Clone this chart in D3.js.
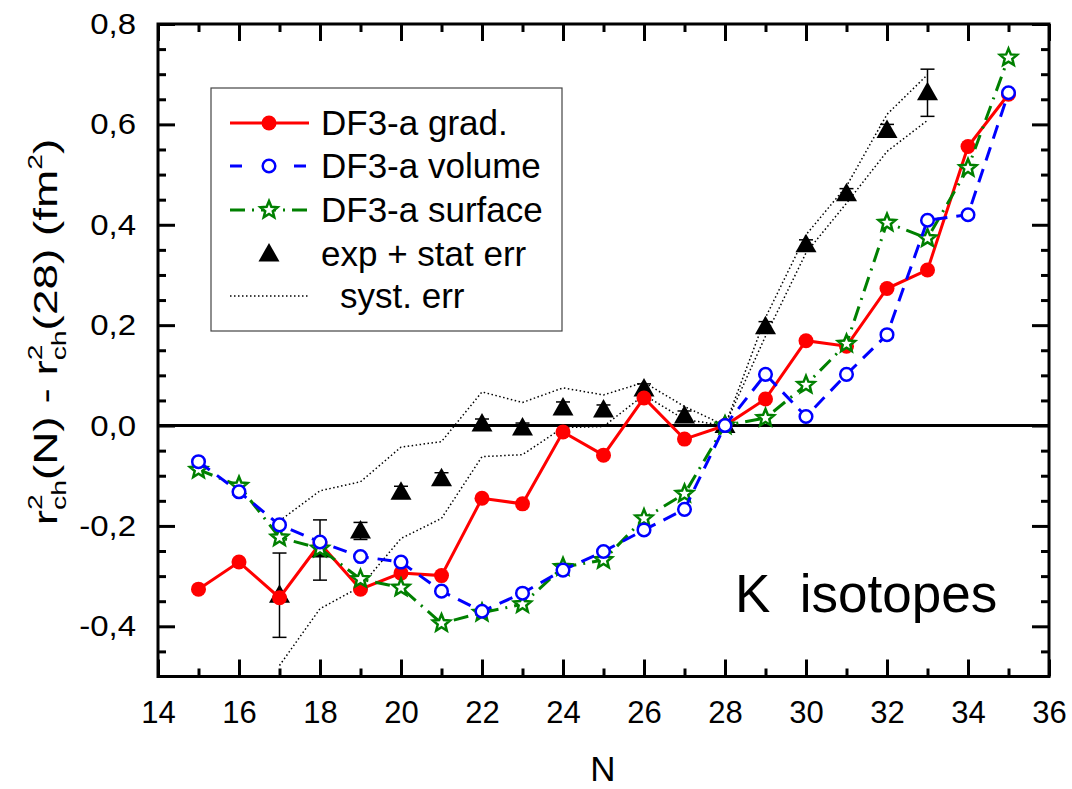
<!DOCTYPE html>
<html>
<head>
<meta charset="utf-8">
<script src="https://cdn.jsdelivr.net/npm/d3@7"></script>
<style>
  body { margin: 0; background: #fff; }
  svg { font-family: "Liberation Sans", Arial, sans-serif; }
</style>
</head>
<body>
<svg id="chart" width="1072" height="789"></svg>
<script>
// neutron number N and the three DF3-a calculations
var nCalc = [15, 16, 17, 18, 19, 20, 21, 22, 23, 24, 25, 26, 27, 28, 29, 30, 31, 32, 33, 34, 35];
var gradVals = [-0.326, -0.272, -0.343, -0.235, -0.326, -0.294, -0.299, -0.145, -0.156, -0.013, -0.059,
                0.055, -0.027, 0.0, 0.053, 0.169, 0.158, 0.273, 0.310, 0.556, 0.660];
var volumeVals = [-0.072, -0.132, -0.198, -0.232, -0.261, -0.272, -0.330, -0.370, -0.334, -0.288, -0.251,
                  -0.208, -0.167, 0.0, 0.102, 0.018, 0.102, 0.181, 0.409, 0.420, 0.663];
var surfaceVals = [-0.088, -0.120, -0.223, -0.245, -0.306, -0.323, -0.394, -0.373, -0.356, -0.282, -0.268,
                   -0.185, -0.136, 0.0, 0.015, 0.081, 0.163, 0.404, 0.373, 0.513, 0.733];

// experiment
var nExp = [17, 18, 19, 20, 21, 22, 23, 24, 25, 26, 27, 28, 29, 30, 31, 32, 33];
var expVals = [-0.338, -0.248, -0.210, -0.133, -0.106, 0.003, -0.005, 0.035, 0.031, 0.073, 0.019,
               0.0, 0.197, 0.360, 0.462, 0.588, 0.663];
var statErr = [0.084, 0.060, 0.017, 0.012, 0.012, 0.010, 0.010, 0.012, 0.010, 0.010, 0.010,
               0.0, 0.010, 0.010, 0.010, 0.012, 0.047];
var systUpper = [-0.190, -0.130, -0.112, -0.043, -0.032, 0.067, 0.046, 0.075, 0.061, 0.086, 0.038,
                 0.0, 0.215, 0.380, 0.477, 0.620, 0.699];
var systLower = [-0.478, -0.365, -0.321, -0.225, -0.185, -0.062, -0.058, -0.004, -0.002, 0.061, 0.012,
                 0.0, 0.178, 0.344, 0.443, 0.546, 0.608];

var xMajor = [14, 16, 18, 20, 22, 24, 26, 28, 30, 32, 34, 36];
var yMajor = [-0.4, -0.2, 0.0, 0.2, 0.4, 0.6, 0.8];

var svg = d3.select("#chart");
var x = d3.scaleLinear().domain([14, 36]).range([158, 1049]);
var y = d3.scaleLinear().domain([-0.5, 0.8]).range([676.5, 24]);

var xMinor = d3.range(15, 36, 1).filter(function(d) { return d % 2 !== 0; });
var yMinor = d3.range(-0.45, 0.8, 0.05).filter(function(d) {
    return Math.abs(Math.round(d * 5) - d * 5) > 0.01;
});

function fmtY(d) { return d.toFixed(1).replace(".", ",").replace("−", "-"); }

function styleAxis(g, w) {
    g.select(".domain").remove();
    g.selectAll(".tick line").attr("stroke", "#000").attr("stroke-width", w);
}

// axes, ticks point inward
var bottom = svg.append("g").attr("transform", "translate(0,676.5)")
    .call(d3.axisBottom(x).tickValues(xMajor).tickSize(-17).tickPadding(24).tickFormat(d3.format("d")));
styleAxis(bottom, 3);
bottom.selectAll("text").attr("font-size", 31).attr("fill", "#000");
styleAxis(svg.append("g").attr("transform", "translate(0,676.5)")
    .call(d3.axisBottom(x).tickValues(xMinor).tickSize(-8).tickFormat("")), 3);

styleAxis(svg.append("g").attr("transform", "translate(0,24)")
    .call(d3.axisTop(x).tickValues(xMajor).tickSize(-17).tickFormat("")), 3);
styleAxis(svg.append("g").attr("transform", "translate(0,24)")
    .call(d3.axisTop(x).tickValues(xMinor).tickSize(-8).tickFormat("")), 3);

var left = svg.append("g").attr("transform", "translate(158,0)")
    .call(d3.axisLeft(y).tickValues(yMajor).tickSize(-17).tickPadding(22).tickFormat(fmtY));
styleAxis(left, 3);
left.selectAll("text").attr("font-size", 30).attr("fill", "#000")
    .attr("transform", "scale(1.1,1)").attr("text-anchor", "end");
left.selectAll(".tick text").attr("x", -20);
styleAxis(svg.append("g").attr("transform", "translate(158,0)")
    .call(d3.axisLeft(y).tickValues(yMinor).tickSize(-8).tickFormat("")), 3);

styleAxis(svg.append("g").attr("transform", "translate(1049,0)")
    .call(d3.axisRight(y).tickValues(yMajor).tickSize(-17).tickFormat("")), 3);
styleAxis(svg.append("g").attr("transform", "translate(1049,0)")
    .call(d3.axisRight(y).tickValues(yMinor).tickSize(-8).tickFormat("")), 3);

// frame
svg.append("rect").attr("x", 158).attr("y", 24).attr("width", 1049 - 158).attr("height", 676.5 - 24)
    .attr("fill", "none").attr("stroke", "#000").attr("stroke-width", 3);

// zero line
svg.append("line").attr("x1", x(14)).attr("x2", x(36)).attr("y1", y(0)).attr("y2", y(0))
    .attr("stroke", "#000").attr("stroke-width", 3);

function starPath(R, r) {
    var pts = [];
    for (var i = 0; i < 10; i++) {
        var a = -Math.PI / 2 + i * Math.PI / 5;
        var rad = (i % 2 === 0) ? R : r;
        pts.push([rad * Math.cos(a), rad * Math.sin(a)]);
    }
    return "M" + pts.map(function(p) { return p[0].toFixed(2) + "," + p[1].toFixed(2); }).join("L") + "Z";
}
var triPath = "M0,-11L10.5,7.5L-10.5,7.5Z";

var line = d3.line().x(function(d) { return x(d[0]); }).y(function(d) { return y(d[1]); });
function pairs(xs, ys) { return xs.map(function(d, i) { return [d, ys[i]]; }); }

// experiment: stat error bars and triangles
var expData = nExp.map(function(d, i) { return [d, expVals[i], statErr[i]]; });
var eb = svg.append("g");
expData.filter(function(d) { return d[2] > 0; }).forEach(function(d) {
    var cx = x(d[0]), y1 = y(d[1] + d[2]), y2 = y(d[1] - d[2]);
    eb.append("line").attr("x1", cx).attr("x2", cx).attr("y1", y1).attr("y2", y2)
        .attr("stroke", "#000").attr("stroke-width", 1.5);
    [y1, y2].forEach(function(yy) {
        eb.append("line").attr("x1", cx - 7).attr("x2", cx + 7).attr("y1", yy).attr("y2", yy)
            .attr("stroke", "#000").attr("stroke-width", 1.5);
    });
});
svg.append("g").selectAll("path").data(expData).enter().append("path")
    .attr("d", triPath)
    .attr("transform", function(d) { return "translate(" + x(d[0]) + "," + y(d[1]) + ")"; })
    .attr("fill", "#000");

// syst. err band edges
[systUpper, systLower].forEach(function(vals) {
    svg.append("path").datum(pairs(nExp, vals)).attr("d", line)
        .attr("fill", "none").attr("stroke", "#000").attr("stroke-width", 1.5)
        .attr("stroke-dasharray", "1.5,2.5");
});

// grad: red solid, filled circles
svg.append("path").datum(pairs(nCalc, gradVals)).attr("d", line)
    .attr("fill", "none").attr("stroke", "#ff0000").attr("stroke-width", 3);
svg.append("g").selectAll("circle").data(pairs(nCalc, gradVals)).enter().append("circle")
    .attr("cx", function(d) { return x(d[0]); }).attr("cy", function(d) { return y(d[1]); })
    .attr("r", 7.5).attr("fill", "#ff0000");

// surface: green dash-dot, open stars
svg.append("path").datum(pairs(nCalc, surfaceVals)).attr("d", line)
    .attr("fill", "none").attr("stroke", "#008000").attr("stroke-width", 3)
    .attr("stroke-dasharray", "15,7,2,7");
svg.append("g").selectAll("path").data(pairs(nCalc, surfaceVals)).enter().append("path")
    .attr("d", starPath(9, 4))
    .attr("transform", function(d) { return "translate(" + x(d[0]) + "," + y(d[1]) + ")"; })
    .attr("fill", "#fff").attr("stroke", "#008000").attr("stroke-width", 2.5);

// volume: blue dashed, open circles
svg.append("path").datum(pairs(nCalc, volumeVals)).attr("d", line)
    .attr("fill", "none").attr("stroke", "#0000ff").attr("stroke-width", 3)
    .attr("stroke-dasharray", "14,9");
svg.append("g").selectAll("circle").data(pairs(nCalc, volumeVals)).enter().append("circle")
    .attr("cx", function(d) { return x(d[0]); }).attr("cy", function(d) { return y(d[1]); })
    .attr("r", 6.3).attr("fill", "#fff").attr("stroke", "#0000ff").attr("stroke-width", 2.5);

// legend
var lg = svg.append("g");
lg.append("rect").attr("x", 211).attr("y", 88).attr("width", 351).attr("height", 243)
    .attr("fill", "#fff").attr("stroke", "#444").attr("stroke-width", 1.2);
var legendRows = [
    { label: "DF3-a grad.", color: "#ff0000", dash: null, mark: "dot", tx: 321 },
    { label: "DF3-a volume", color: "#0000ff", dash: "12,20", mark: "circle", tx: 321 },
    { label: "DF3-a surface", color: "#008000", dash: "15,7,2,7", mark: "star", tx: 321 },
    { label: "exp + stat err", color: "#000", dash: null, mark: "tri", tx: 321 },
    { label: "syst. err", color: "#000", dash: "1.5,2.5", mark: "none", tx: 340 }
];
var rowY = [123, 166, 210, 254, 296];
legendRows.forEach(function(r, i) {
    var cy = rowY[i];
    if (r.mark !== "tri") {
        lg.append("line").attr("x1", 230).attr("x2", 309).attr("y1", cy).attr("y2", cy)
            .attr("stroke", r.color).attr("stroke-width", r.mark === "none" ? 1.5 : 3)
            .attr("stroke-dasharray", r.dash);
    }
    if (r.mark === "dot") {
        lg.append("circle").attr("cx", 269).attr("cy", cy).attr("r", 7.5).attr("fill", r.color);
    } else if (r.mark === "circle") {
        lg.append("circle").attr("cx", 269).attr("cy", cy).attr("r", 6.3)
            .attr("fill", "#fff").attr("stroke", r.color).attr("stroke-width", 2.5);
    } else if (r.mark === "star") {
        lg.append("path").attr("d", starPath(9, 4)).attr("transform", "translate(269," + cy + ")")
            .attr("fill", "#fff").attr("stroke", r.color).attr("stroke-width", 2.5);
    } else if (r.mark === "tri") {
        lg.append("path").attr("d", triPath).attr("transform", "translate(269," + cy + ")").attr("fill", "#000");
    }
    lg.append("text").attr("x", r.tx).attr("y", cy + 12).attr("font-size", 35).attr("fill", "#000")
        .text(r.label);
});

// annotation
svg.append("text").attr("x", 735).attr("y", 612).attr("font-size", 53).attr("fill", "#000")
    .style("white-space", "pre").text("K  isotopes");

// axis titles
svg.append("text").attr("x", 603).attr("y", 781).attr("text-anchor", "middle")
    .attr("font-size", 35).attr("fill", "#000").text("N");

var yt = svg.append("text").attr("transform", "translate(57,332) rotate(-90) scale(1.35,1)")
    .attr("text-anchor", "middle").attr("font-size", 34).attr("fill", "#000");
function rsq(t) {
    t.append("tspan").text("r");
    t.append("tspan").attr("font-size", 21).attr("dy", -15).text("2");
    t.append("tspan").attr("font-size", 21).attr("dx", -11.7).attr("dy", 24).text("ch");
}
rsq(yt);
yt.append("tspan").attr("dy", -9).text("(N) - r");
yt.append("tspan").attr("font-size", 21).attr("dy", -15).text("2");
yt.append("tspan").attr("font-size", 21).attr("dx", -11.7).attr("dy", 24).text("ch");
yt.append("tspan").attr("dy", -9).text("(28) (fm");
yt.append("tspan").attr("font-size", 21).attr("dy", -15).text("2");
yt.append("tspan").attr("dy", 15).text(")");
</script>
</body>
</html>
